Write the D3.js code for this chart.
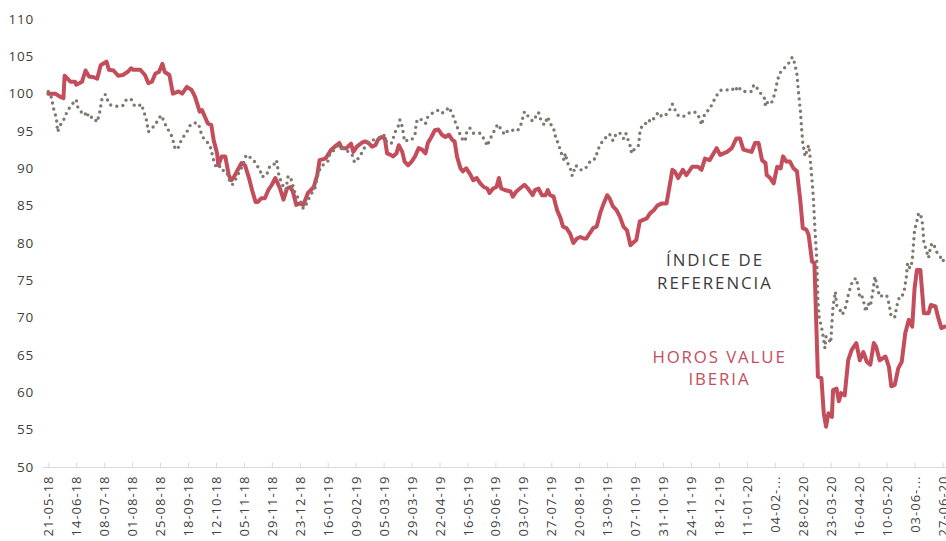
<!DOCTYPE html>
<html><head><meta charset="utf-8">
<script src="https://cdn.jsdelivr.net/npm/d3@7"></script>
<style>
html,body{margin:0;padding:0;background:#fff;}
svg{display:block;}
</style></head>
<body>
<svg id="chart" width="946" height="541"></svg>
<script>
// ---------- DATA ----------
const yTicks = [50,55,60,65,70,75,80,85,90,95,100,105,110];
const xTickDates = ["2018-05-21","2018-06-14","2018-07-08","2018-08-01","2018-08-25","2018-09-18","2018-10-12","2018-11-05","2018-11-29","2018-12-23","2019-01-16","2019-02-09","2019-03-05","2019-03-29","2019-04-22","2019-05-16","2019-06-09","2019-07-03","2019-07-27","2019-08-20","2019-09-13","2019-10-07","2019-10-31","2019-11-24","2019-12-18","2020-01-11","2020-02-04","2020-02-28","2020-03-23","2020-04-16","2020-05-10","2020-06-03","2020-06-27"];
const xTickLabels = ["21-05-18","14-06-18","08-07-18","01-08-18","25-08-18","18-09-18","12-10-18","05-11-18","29-11-18","23-12-18","16-01-19","09-02-19","05-03-19","29-03-19","22-04-19","16-05-19","09-06-19","03-07-19","27-07-19","20-08-19","13-09-19","07-10-19","31-10-19","24-11-19","18-12-19","11-01-20","04-02-...","28-02-20","23-03-20","16-04-20","10-05-20","03-06-...","27-06-20"];

const horos = [["2018-05-21",100.0],["2018-05-27",100.0],["2018-05-31",99.6],["2018-06-03",99.4],["2018-06-04",102.4],["2018-06-09",101.6],["2018-06-13",101.6],["2018-06-14",101.2],["2018-06-19",101.6],["2018-06-22",103.1],["2018-06-25",102.3],["2018-06-29",102.2],["2018-07-02",102.0],["2018-07-05",103.8],["2018-07-10",104.3],["2018-07-12",103.2],["2018-07-16",103.1],["2018-07-20",102.4],["2018-07-24",102.5],["2018-07-28",102.9],["2018-07-31",103.4],["2018-08-02",103.2],["2018-08-08",103.2],["2018-08-12",102.5],["2018-08-15",101.4],["2018-08-18",101.6],["2018-08-21",102.7],["2018-08-24",102.9],["2018-08-27",104.0],["2018-08-29",102.9],["2018-09-02",102.5],["2018-09-05",100.0],["2018-09-10",100.3],["2018-09-13",100.0],["2018-09-17",100.9],["2018-09-21",100.5],["2018-09-24",99.6],["2018-09-28",97.6],["2018-09-30",97.8],["2018-10-05",96.0],["2018-10-08",95.8],["2018-10-10",93.8],["2018-10-13",92.0],["2018-10-14",90.4],["2018-10-17",91.6],["2018-10-20",91.6],["2018-10-23",89.1],["2018-10-25",88.4],["2018-10-27",88.7],["2018-10-30",89.6],["2018-11-03",90.7],["2018-11-06",90.4],["2018-11-09",88.9],["2018-11-12",87.1],["2018-11-15",85.5],["2018-11-17",85.5],["2018-11-20",86.0],["2018-11-23",86.0],["2018-11-26",87.1],["2018-11-29",87.8],["2018-12-02",88.7],["2018-12-04",88.0],["2018-12-06",87.3],["2018-12-09",85.8],["2018-12-12",87.3],["2018-12-15",87.5],["2018-12-17",86.9],["2018-12-20",85.1],["2018-12-23",85.3],["2018-12-26",85.1],["2018-12-30",86.7],["2019-01-04",87.5],["2019-01-07",89.1],["2019-01-09",91.1],["2019-01-14",91.3],["2019-01-17",92.0],["2019-01-19",92.5],["2019-01-22",92.9],["2019-01-26",93.4],["2019-01-28",92.7],["2019-02-01",92.7],["2019-02-05",93.3],["2019-02-07",92.2],["2019-02-10",92.9],["2019-02-14",93.4],["2019-02-17",93.6],["2019-02-20",93.4],["2019-02-23",92.9],["2019-02-26",93.1],["2019-02-28",93.8],["2019-03-03",94.2],["2019-03-06",94.0],["2019-03-08",92.0],["2019-03-11",91.8],["2019-03-13",91.6],["2019-03-16",92.0],["2019-03-18",93.1],["2019-03-21",92.2],["2019-03-23",90.9],["2019-03-26",90.4],["2019-03-29",90.9],["2019-04-01",91.6],["2019-04-04",92.7],["2019-04-07",92.5],["2019-04-10",92.0],["2019-04-12",93.4],["2019-04-15",94.2],["2019-04-18",95.1],["2019-04-21",95.2],["2019-04-24",94.5],["2019-04-27",94.2],["2019-04-30",94.5],["2019-05-03",93.8],["2019-05-05",93.6],["2019-05-07",91.6],["2019-05-10",90.0],["2019-05-12",89.6],["2019-05-15",90.0],["2019-05-18",89.3],["2019-05-21",88.4],["2019-05-24",88.7],["2019-05-27",88.0],["2019-05-30",87.5],["2019-06-02",87.3],["2019-06-04",86.7],["2019-06-07",87.3],["2019-06-10",87.5],["2019-06-12",88.7],["2019-06-14",87.3],["2019-06-17",87.1],["2019-06-22",86.9],["2019-06-24",86.2],["2019-06-27",86.9],["2019-06-30",87.3],["2019-07-04",87.8],["2019-07-07",87.3],["2019-07-11",86.4],["2019-07-13",87.1],["2019-07-16",87.3],["2019-07-19",86.4],["2019-07-22",86.4],["2019-07-24",87.1],["2019-07-26",86.4],["2019-07-29",86.2],["2019-08-01",84.4],["2019-08-04",83.3],["2019-08-06",82.2],["2019-08-09",82.0],["2019-08-12",81.3],["2019-08-15",80.0],["2019-08-18",80.6],["2019-08-21",80.8],["2019-08-24",80.6],["2019-08-26",80.6],["2019-08-29",81.3],["2019-09-01",82.0],["2019-09-04",82.2],["2019-09-07",84.0],["2019-09-10",85.3],["2019-09-13",86.4],["2019-09-15",86.0],["2019-09-18",84.9],["2019-09-21",84.4],["2019-09-24",83.5],["2019-09-27",82.2],["2019-09-30",81.7],["2019-10-03",79.7],["2019-10-05",80.0],["2019-10-08",80.4],["2019-10-11",82.9],["2019-10-14",83.1],["2019-10-17",83.3],["2019-10-20",84.0],["2019-10-23",84.4],["2019-10-26",85.0],["2019-10-30",85.3],["2019-11-03",85.3],["2019-11-08",89.8],["2019-11-10",89.6],["2019-11-13",88.7],["2019-11-17",89.8],["2019-11-20",89.1],["2019-11-25",90.2],["2019-11-30",90.2],["2019-12-03",89.8],["2019-12-06",91.3],["2019-12-10",91.1],["2019-12-16",92.7],["2019-12-19",91.8],["2019-12-25",92.2],["2019-12-29",92.7],["2020-01-02",94.0],["2020-01-05",94.0],["2020-01-08",92.5],["2020-01-15",92.2],["2020-01-18",93.4],["2020-01-21",93.4],["2020-01-24",91.1],["2020-01-27",90.7],["2020-01-28",89.1],["2020-01-31",88.7],["2020-02-03",88.0],["2020-02-06",90.2],["2020-02-09",90.0],["2020-02-11",91.6],["2020-02-14",90.9],["2020-02-17",90.9],["2020-02-20",90.0],["2020-02-23",89.6],["2020-02-26",85.5],["2020-02-28",82.0],["2020-03-02",81.8],["2020-03-04",81.1],["2020-03-07",77.5],["2020-03-09",77.3],["2020-03-12",62.1],["2020-03-15",61.9],["2020-03-17",57.2],["2020-03-19",55.4],["2020-03-21",57.2],["2020-03-24",56.7],["2020-03-25",60.3],["2020-03-28",60.5],["2020-03-30",58.8],["2020-04-01",59.9],["2020-04-04",59.6],["2020-04-07",64.3],["2020-04-10",65.7],["2020-04-14",66.6],["2020-04-17",64.3],["2020-04-20",65.4],["2020-04-23",64.1],["2020-04-26",63.7],["2020-04-29",66.6],["2020-05-01",66.1],["2020-05-04",64.3],["2020-05-09",64.8],["2020-05-12",63.4],["2020-05-14",60.8],["2020-05-17",61.0],["2020-05-20",63.2],["2020-05-23",64.1],["2020-05-26",67.9],["2020-05-29",69.7],["2020-06-01",68.8],["2020-06-03",73.9],["2020-06-05",76.4],["2020-06-08",76.4],["2020-06-11",70.6],["2020-06-15",70.6],["2020-06-17",71.7],["2020-06-21",71.5],["2020-06-23",70.2],["2020-06-26",68.6],["2020-06-29",68.8]];

const indice = [["2018-05-21",100.3],["2018-05-24",99.4],["2018-05-25",98.3],["2018-05-28",96.7],["2018-05-29",94.9],["2018-06-01",96.0],["2018-06-04",96.7],["2018-06-06",97.6],["2018-06-10",98.5],["2018-06-14",99.2],["2018-06-15",98.3],["2018-06-18",97.6],["2018-06-21",97.1],["2018-06-23",97.6],["2018-06-25",96.7],["2018-06-28",96.9],["2018-07-02",96.2],["2018-07-04",97.4],["2018-07-06",99.2],["2018-07-09",99.9],["2018-07-11",99.1],["2018-07-13",98.5],["2018-07-19",98.3],["2018-07-24",98.4],["2018-07-27",99.2],["2018-07-31",99.3],["2018-08-03",98.4],["2018-08-06",98.3],["2018-08-09",98.6],["2018-08-11",97.6],["2018-08-13",96.7],["2018-08-15",94.9],["2018-08-18",95.4],["2018-08-21",95.8],["2018-08-23",96.5],["2018-08-26",97.1],["2018-08-28",96.4],["2018-08-31",95.4],["2018-09-03",94.7],["2018-09-05",93.9],["2018-09-06",92.9],["2018-09-09",92.5],["2018-09-11",93.4],["2018-09-14",94.2],["2018-09-17",94.9],["2018-09-20",95.8],["2018-09-23",96.1],["2018-09-27",96.0],["2018-09-30",94.3],["2018-10-04",93.6],["2018-10-07",93.0],["2018-10-10",91.1],["2018-10-12",90.2],["2018-10-15",90.4],["2018-10-16",89.8],["2018-10-21",89.6],["2018-10-24",88.2],["2018-10-26",87.8],["2018-10-28",88.2],["2018-10-30",88.9],["2018-11-02",89.8],["2018-11-04",90.4],["2018-11-07",91.8],["2018-11-09",91.6],["2018-11-13",91.2],["2018-11-16",90.4],["2018-11-19",89.8],["2018-11-20",88.9],["2018-11-23",88.9],["2018-11-26",89.6],["2018-11-27",90.2],["2018-11-30",90.3],["2018-12-03",91.1],["2018-12-05",89.1],["2018-12-07",88.2],["2018-12-09",87.5],["2018-12-11",87.1],["2018-12-13",89.0],["2018-12-16",88.4],["2018-12-18",87.1],["2018-12-20",86.4],["2018-12-24",85.5],["2018-12-26",84.6],["2018-12-29",85.3],["2019-01-01",86.4],["2019-01-05",87.3],["2019-01-07",88.9],["2019-01-10",90.2],["2019-01-14",90.7],["2019-01-16",90.9],["2019-01-18",92.0],["2019-01-22",92.5],["2019-01-25",93.1],["2019-01-28",92.8],["2019-01-31",92.5],["2019-02-03",92.2],["2019-02-06",91.8],["2019-02-08",90.8],["2019-02-11",91.3],["2019-02-14",92.0],["2019-02-17",92.9],["2019-02-20",93.4],["2019-02-24",93.8],["2019-02-28",94.0],["2019-03-05",94.5],["2019-03-08",93.4],["2019-03-12",93.4],["2019-03-15",94.9],["2019-03-18",95.8],["2019-03-19",96.5],["2019-03-21",95.6],["2019-03-23",93.6],["2019-03-26",93.8],["2019-03-29",93.8],["2019-04-01",94.5],["2019-04-02",96.2],["2019-04-05",96.7],["2019-04-10",96.0],["2019-04-12",96.9],["2019-04-16",97.4],["2019-04-21",97.8],["2019-04-24",97.4],["2019-04-27",97.6],["2019-04-30",98.2],["2019-05-02",97.6],["2019-05-04",96.9],["2019-05-06",96.0],["2019-05-08",95.2],["2019-05-11",94.0],["2019-05-14",93.6],["2019-05-15",94.7],["2019-05-18",95.4],["2019-05-21",94.7],["2019-05-24",94.7],["2019-05-27",94.7],["2019-05-29",94.2],["2019-05-31",93.8],["2019-06-02",93.0],["2019-06-04",93.8],["2019-06-07",94.7],["2019-06-11",95.9],["2019-06-14",95.2],["2019-06-17",94.5],["2019-06-20",95.1],["2019-06-24",95.1],["2019-06-28",95.0],["2019-07-01",95.9],["2019-07-04",97.6],["2019-07-07",97.0],["2019-07-11",96.3],["2019-07-14",97.0],["2019-07-16",97.5],["2019-07-18",96.5],["2019-07-21",95.8],["2019-07-24",96.9],["2019-07-26",96.0],["2019-07-29",95.4],["2019-07-30",94.5],["2019-08-01",93.8],["2019-08-02",93.1],["2019-08-04",92.5],["2019-08-05",91.8],["2019-08-07",91.1],["2019-08-08",92.0],["2019-08-10",90.7],["2019-08-12",90.2],["2019-08-14",89.0],["2019-08-17",90.4],["2019-08-21",89.8],["2019-08-24",89.8],["2019-08-27",90.3],["2019-08-30",91.1],["2019-09-03",91.3],["2019-09-05",92.5],["2019-09-08",93.4],["2019-09-11",94.0],["2019-09-15",94.6],["2019-09-18",93.7],["2019-09-21",94.7],["2019-09-24",94.7],["2019-09-27",94.0],["2019-09-29",94.7],["2019-10-01",93.8],["2019-10-03",92.9],["2019-10-04",92.0],["2019-10-07",92.7],["2019-10-10",93.1],["2019-10-11",94.7],["2019-10-13",95.8],["2019-10-16",96.0],["2019-10-18",96.5],["2019-10-21",96.2],["2019-10-24",96.9],["2019-10-27",97.5],["2019-10-30",96.9],["2019-11-02",97.1],["2019-11-05",97.6],["2019-11-08",98.6],["2019-11-10",97.9],["2019-11-13",97.1],["2019-11-17",96.9],["2019-11-22",97.4],["2019-11-26",97.6],["2019-11-29",97.4],["2019-12-02",96.5],["2019-12-03",95.8],["2019-12-06",97.4],["2019-12-10",97.9],["2019-12-13",98.9],["2019-12-17",100.0],["2019-12-20",100.5],["2019-12-25",100.5],["2019-12-29",100.7],["2020-01-01",100.3],["2020-01-03",101.0],["2020-01-07",100.3],["2020-01-11",100.3],["2020-01-15",100.3],["2020-01-17",101.2],["2020-01-20",100.7],["2020-01-23",100.0],["2020-01-26",99.4],["2020-01-27",98.3],["2020-01-29",98.9],["2020-02-01",98.7],["2020-02-04",100.0],["2020-02-06",101.6],["2020-02-08",102.7],["2020-02-12",103.4],["2020-02-16",104.1],["2020-02-19",104.9],["2020-02-21",104.1],["2020-02-23",102.6],["2020-02-24",100.7],["2020-02-26",97.6],["2020-02-27",95.3],["2020-02-28",93.4],["2020-03-01",91.6],["2020-03-04",93.1],["2020-03-05",92.0],["2020-03-07",88.3],["2020-03-08",86.2],["2020-03-09",83.2],["2020-03-10",80.4],["2020-03-11",77.8],["2020-03-12",72.4],["2020-03-13",70.1],["2020-03-15",68.8],["2020-03-17",67.0],["2020-03-18",65.9],["2020-03-19",67.5],["2020-03-21",67.2],["2020-03-23",66.6],["2020-03-24",69.2],["2020-03-25",71.5],["2020-03-27",73.5],["2020-03-28",71.7],["2020-03-31",71.0],["2020-04-02",70.4],["2020-04-05",71.5],["2020-04-07",73.0],["2020-04-09",74.1],["2020-04-11",75.0],["2020-04-14",75.3],["2020-04-16",73.7],["2020-04-17",72.6],["2020-04-19",72.8],["2020-04-21",71.7],["2020-04-22",70.8],["2020-04-24",71.9],["2020-04-26",71.5],["2020-04-28",73.3],["2020-04-30",75.5],["2020-05-02",74.1],["2020-05-04",72.8],["2020-05-07",73.0],["2020-05-10",73.0],["2020-05-12",71.9],["2020-05-14",70.1],["2020-05-17",70.1],["2020-05-19",71.7],["2020-05-21",72.8],["2020-05-23",72.8],["2020-05-25",73.5],["2020-05-27",75.5],["2020-05-28",77.3],["2020-05-30",76.6],["2020-06-01",77.5],["2020-06-02",79.7],["2020-06-03",81.7],["2020-06-05",82.9],["2020-06-06",83.8],["2020-06-08",84.0],["2020-06-10",82.4],["2020-06-11",80.0],["2020-06-13",79.1],["2020-06-15",78.0],["2020-06-17",79.7],["2020-06-19",80.0],["2020-06-22",78.8],["2020-06-25",78.2],["2020-06-27",77.5],["2020-06-30",78.2]];

const labelIndice = ["ÍNDICE DE", "REFERENCIA"];
const labelHoros = ["HOROS VALUE", "IBERIA"];

// ---------- CHART ----------
const parse = d3.timeParse("%Y-%m-%d");
const svg = d3.select("#chart");
const FONT = "'Open Sans', 'Noto Sans', sans-serif";
const RED = "#c44d5b", GREY = "#7f7770";

const x = d3.scaleTime()
  .domain([parse("2018-05-21"), parse("2020-06-27")])
  .range([48.3, 942.5]);
const y = d3.scaleLinear().domain([50, 110]).range([467, 19]);

// Y axis (labels only)
const gy = svg.append("g").attr("transform", "translate(36,0)")
  .call(d3.axisLeft(y).tickValues(yTicks).tickSize(0).tickPadding(2).tickFormat(d3.format("d")));
gy.select(".domain").remove();
gy.selectAll("text").attr("font-family", FONT).attr("font-size", 13.5)
  .attr("letter-spacing", "0.8px").attr("fill", "#404040");

// X axis baseline
svg.append("line").attr("x1", 43).attr("x2", 946).attr("y1", 467.5).attr("y2", 467.5)
  .attr("stroke", "#d9d9d9").attr("stroke-width", 1);

const gx = svg.append("g").attr("transform", "translate(0,467.5)")
  .call(d3.axisBottom(x).tickValues(xTickDates.map(parse))
    .tickFormat((d, i) => xTickLabels[i]).tickSizeInner(-5).tickSizeOuter(0));
gx.select(".domain").remove();
gx.selectAll(".tick line").attr("stroke", "#d9d9d9");
gx.selectAll(".tick text")
  .attr("font-family", FONT).attr("font-size", 13).attr("letter-spacing", "1px")
  .attr("fill", "#404040")
  .attr("transform", "rotate(-90)")
  .attr("text-anchor", "end")
  .attr("x", -8).attr("y", 0).attr("dy", "0.35em");

// Lines
const line = d3.line().x(d => x(parse(d[0]))).y(d => y(d[1]));

svg.append("path").datum(horos)
  .attr("d", line).attr("fill", "none").attr("stroke", RED)
  .attr("stroke-width", 4).attr("stroke-linejoin", "round").attr("stroke-linecap", "round");

svg.append("path").datum(indice)
  .attr("d", line).attr("fill", "none").attr("stroke", GREY)
  .attr("stroke-width", 3.4).attr("stroke-linecap", "round")
  .attr("stroke-dasharray", "0 6.2");

// Annotations
svg.append("text").attr("x", 715).attr("y", 266).attr("text-anchor", "middle")
  .attr("font-family", FONT).attr("font-size", 16.8).attr("letter-spacing", "2px").attr("fill", "#3a3a3a")
  .selectAll("tspan").data(labelIndice).join("tspan")
  .attr("x", 715).attr("dy", (d, i) => i ? 23 : 0).text(d => d);

svg.append("text").attr("x", 719.5).attr("y", 363).attr("text-anchor", "middle")
  .attr("font-family", FONT).attr("font-size", 16.8).attr("font-weight", 500).attr("letter-spacing", "1.9px").attr("fill", RED)
  .selectAll("tspan").data(labelHoros).join("tspan")
  .attr("x", 719.5).attr("dy", (d, i) => i ? 22 : 0).text(d => d);
</script>
</body></html>
